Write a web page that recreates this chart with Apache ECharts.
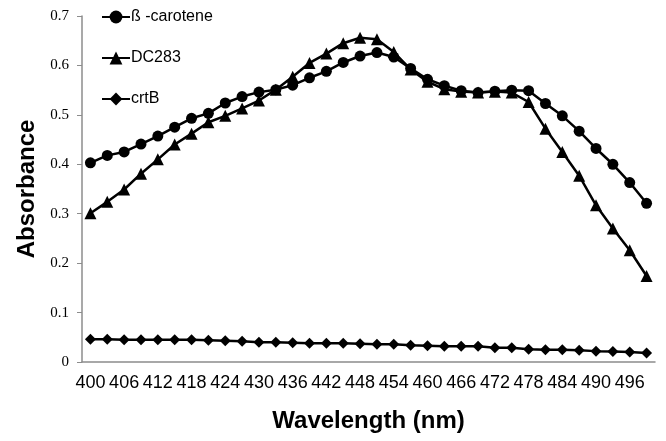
<!DOCTYPE html>
<html>
<head>
<meta charset="utf-8">
<script src="https://cdn.jsdelivr.net/npm/echarts@6/dist/echarts.min.js"></script>
<style>html,body{margin:0;padding:0;background:#fff}#c{width:666px;height:441px}</style>
</head>
<body>
<div id="c"></div>
<script>
var wavelengths = [400,403,406,409,412,415,418,421,424,427,430,433,436,439,442,445,448,451,454,457,460,463,466,469,472,475,478,481,484,487,490,493,496,499];
var betaCarotene = [0.403,0.418,0.425,0.441,0.457,0.475,0.493,0.503,0.524,0.537,0.546,0.551,0.560,0.575,0.588,0.606,0.619,0.626,0.617,0.594,0.572,0.559,0.549,0.545,0.548,0.550,0.549,0.523,0.498,0.467,0.432,0.400,0.363,0.321];
var dc283 = [0.301,0.324,0.349,0.381,0.410,0.440,0.462,0.485,0.498,0.513,0.529,0.551,0.577,0.605,0.624,0.645,0.656,0.653,0.627,0.592,0.567,0.552,0.547,0.545,0.547,0.545,0.526,0.472,0.425,0.377,0.317,0.270,0.226,0.174];
var crtB = [0.046,0.046,0.045,0.045,0.045,0.045,0.045,0.044,0.043,0.042,0.040,0.040,0.039,0.038,0.038,0.038,0.037,0.036,0.036,0.034,0.033,0.032,0.032,0.032,0.029,0.029,0.026,0.025,0.025,0.024,0.022,0.021,0.020,0.018];
var seriesNames = ['ß -carotene','DC283','crtB'];
var yTicks = [0,0.1,0.2,0.3,0.4,0.5,0.6,0.7];

var chart = echarts.init(document.getElementById('c'), null, {renderer:'canvas'});
function mk(name, data, symbol, size){
  return {name:name, type:'line', data:data, symbol:symbol, symbolSize:size, showAllSymbol:true,
    lineStyle:{color:'#000', width:2.5}, itemStyle:{color:'#000'}, animation:false};
}
chart.setOption({
  animation:false,
  grid:{left:82, right:11, top:16, bottom:79, containLabel:false},
  legend:{orient:'vertical', left:96, top:4, itemWidth:28, itemHeight:16, itemGap:25,
    data:seriesNames, textStyle:{fontFamily:'Liberation Sans', fontSize:16, color:'#000', padding:[0,0,0,-4]}},
  xAxis:{type:'category', data:wavelengths, boundaryGap:true,
    name:'Wavelength (nm)', nameLocation:'middle', nameGap:47,
    nameTextStyle:{fontFamily:'Liberation Sans', fontWeight:'bold', fontSize:24, color:'#000'},
    axisLine:{lineStyle:{color:'#8c8c8c', width:1.5}},
    axisTick:{interval:0, length:5, lineStyle:{color:'#8c8c8c'}},
    axisLabel:{interval:1, margin:12, fontFamily:'Liberation Sans', fontSize:18, color:'#000'}},
  yAxis:{type:'value', min:0, max:0.7, interval:0.1,
    name:'Absorbance', nameLocation:'middle', nameGap:41, nameRotate:90,
    nameTextStyle:{fontFamily:'Liberation Sans', fontWeight:'bold', fontSize:24, color:'#000'},
    splitLine:{show:false},
    axisLine:{show:true, lineStyle:{color:'#8c8c8c', width:1.5}},
    axisTick:{show:true, inside:false, length:5, lineStyle:{color:'#8c8c8c'}},
    axisLabel:{margin:13, fontFamily:'Liberation Serif', fontSize:15, color:'#000',
      formatter:function(v){return yTicks.indexOf(Math.round(v*10)/10)>=0 ? String(Math.round(v*10)/10) : '';}}},
  series:[
    mk(seriesNames[0], betaCarotene, 'circle', 11),
    mk(seriesNames[1], dc283, 'triangle', 12),
    mk(seriesNames[2], crtB, 'diamond', 11)
  ]
});
</script>
</body>
</html>
